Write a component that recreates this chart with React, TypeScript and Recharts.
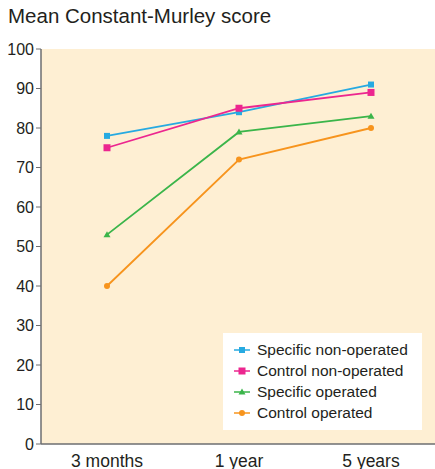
import { LineChart, Line, XAxis, YAxis, CartesianGrid } from 'recharts'

const categories = ['3 months', '1 year', '5 years']
const specificNonOperated = [78, 84, 91]
const controlNonOperated = [75, 85, 89]
const specificOperated = [53, 79, 83]
const controlOperated = [40, 72, 80]
const yTicks = [0, 10, 20, 30, 40, 50, 60, 70, 80, 90, 100]
const boundaryTicks = [0, 1, 2, 3]

const data = categories.map((name, i) => ({
  name,
  sno: specificNonOperated[i],
  cno: controlNonOperated[i],
  so: specificOperated[i],
  co: controlOperated[i],
}))

const FONT = '"Liberation Sans", Arial, sans-serif'
const TEXT = '#231f20'
const AXIS = '#6d6e71'

const series = [
  { key: 'sno', name: 'Specific non-operated', color: '#27aae1', shape: 'square', size: 6 },
  { key: 'cno', name: 'Control non-operated', color: '#ec268f', shape: 'square', size: 7 },
  { key: 'so', name: 'Specific operated', color: '#3bb54a', shape: 'triangle', size: 7 },
  { key: 'co', name: 'Control operated', color: '#f7941d', shape: 'circle', size: 6 },
]

function Marker({ cx, cy, shape, size, color }: any) {
  if (cx == null || cy == null) return null
  const h = size / 2
  if (shape === 'square') return <rect x={cx - h} y={cy - h} width={size} height={size} fill={color} />
  if (shape === 'triangle')
    return <polygon points={`${cx - h},${cy + h - 1} ${cx + h},${cy + h - 1} ${cx},${cy - h}`} fill={color} />
  return <circle cx={cx} cy={cy} r={h} fill={color} />
}

function LegendBox() {
  return (
    <div
      style={{
        position: 'absolute',
        left: 223,
        top: 333,
        background: '#ffffff',
        width: 199,
        height: 97,
        boxSizing: 'border-box',
        padding: '6px 0 0 11px',
        fontFamily: FONT,
        fontSize: 15.5,
        color: TEXT,
      }}
    >
      {series.map((s) => (
        <div key={s.key} style={{ display: 'flex', alignItems: 'center', height: 21 }}>
          <svg width={16} height={10} style={{ marginRight: 7 }}>
            <line x1={0} y1={5} x2={16} y2={5} stroke={s.color} strokeWidth={1.5} />
            <Marker cx={8} cy={5} shape={s.shape} size={s.size} color={s.color} />
          </svg>
          <span>{s.name}</span>
        </div>
      ))}
    </div>
  )
}

export default function App() {
  return (
    <div style={{ position: 'absolute', left: 0, top: 0, width: 435, height: 469, background: '#ffffff', overflow: 'hidden' }}>
      <div
        style={{
          position: 'absolute',
          left: 8,
          top: 4,
          fontFamily: FONT,
          fontSize: 20.5,
          color: TEXT,
          whiteSpace: 'nowrap',
        }}
      >
        Mean Constant-Murley score
      </div>
      <LineChart
        width={437}
        height={469}
        data={data}
        margin={{ top: 49, right: 0, left: 0, bottom: 0 }}
        style={{ fontFamily: FONT, overflow: 'visible' }}
      >
        <CartesianGrid horizontal={false} vertical={false} fill="#feefd3" />
        <XAxis
          xAxisId={0}
          type="number"
          domain={[0, 3]}
          ticks={boundaryTicks}
          tick={false}
          tickSize={5}
          stroke={AXIS}
          axisLine={{ stroke: AXIS, strokeWidth: 1.5 }}
          height={1}
        />
        <XAxis
          xAxisId={1}
          dataKey="name"
          scale="band"
          axisLine={false}
          tickLine={false}
          tickMargin={4}
          height={24}
          tick={{ fill: TEXT, fontSize: 17.5 }}
        />
        <YAxis
          domain={[0, 100]}
          ticks={yTicks}
          width={41}
          tickSize={5}
          tickMargin={2}
          interval={0}
          stroke={AXIS}
          axisLine={{ stroke: AXIS, strokeWidth: 1.5 }}
          tick={{ fill: TEXT, fontSize: 16 }}
        />
        {series.map((s) => (
          <Line
            key={s.key}
            xAxisId={1}
            dataKey={s.key}
            name={s.name}
            stroke={s.color}
            strokeWidth={1.8}
            isAnimationActive={false}
            dot={(p: any) => <Marker key={`${s.key}-${p.index}`} cx={p.cx} cy={p.cy} shape={s.shape} size={s.size} color={s.color} />}
            activeDot={false}
          />
        ))}
      </LineChart>
      <LegendBox />
    </div>
  )
}
